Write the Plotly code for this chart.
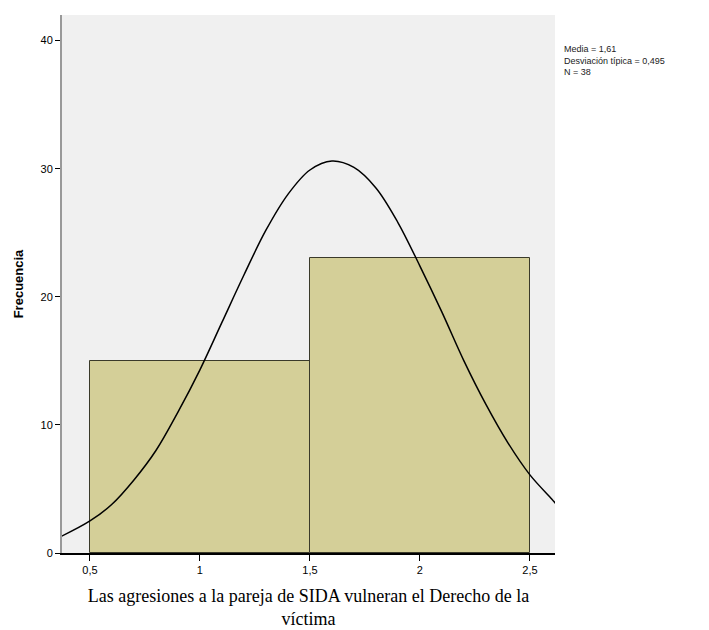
import plotly.graph_objects as go

# histogram bins (centres) and counts
bin_centers = [1.0, 2.0]
counts = [15, 23]

# fitted normal curve
curve_x = [0.37, 0.5, 0.6, 0.7, 0.8, 0.9, 1.0, 1.1, 1.2, 1.3, 1.4, 1.5, 1.6,
           1.7, 1.8, 1.9, 2.0, 2.1, 2.2, 2.3, 2.4, 2.5, 2.6, 2.62]
curve_y = [1.3, 2.5, 3.8, 5.7, 8.0, 11.0, 14.3, 18.0, 21.7, 25.2, 28.0, 29.9, 30.6,
           30.1, 28.5, 25.8, 22.4, 18.8, 15.0, 11.6, 8.6, 6.1, 4.2, 3.8]

x_ticks = [0.5, 1, 1.5, 2, 2.5]
x_tick_labels = ['0,5', '1', '1,5', '2', '2,5']
y_ticks = [0, 10, 20, 30, 40]

stats_text = 'Media = 1,61<br>Desviación típica = 0,495<br>N = 38'

fig = go.Figure()

fig.add_trace(go.Bar(
    x=bin_centers, y=counts, width=1,
    marker=dict(color='#d4cf98', line=dict(color='#3a3a2a', width=1)),
    showlegend=False,
))

fig.add_trace(go.Scatter(
    x=curve_x, y=curve_y, mode='lines',
    line=dict(color='black', width=1.5, shape='spline'),
    showlegend=False,
))

fig.add_annotation(
    x=1.015, y=0.95, xref='paper', yref='paper',
    xanchor='left', yanchor='top', align='left', showarrow=False,
    text=stats_text, font=dict(size=9, color='#222'),
)

fig.update_layout(
    width=709, height=630,
    margin=dict(l=54, r=162, t=7, b=85),
    paper_bgcolor='white',
    plot_bgcolor='#f0f0f0',
    font=dict(family='Liberation Sans, Arial', size=11, color='black'),
    bargap=0,
)

fig.update_xaxes(
    range=[0.373, 2.614],
    tickvals=x_ticks, ticktext=x_tick_labels,
    ticks='outside', ticklen=6, tickcolor='black',
    showgrid=False, zeroline=False,
    showline=True, linecolor='black', linewidth=1.5,
    title=dict(text='Las agresiones a la pareja de SIDA vulneran el Derecho de la<br>víctima',
               font=dict(family='Liberation Serif, Times New Roman', size=18),
               standoff=14),
)

fig.update_yaxes(
    range=[0, 42],
    tickvals=y_ticks,
    ticks='outside', ticklen=5, tickcolor='black',
    showgrid=False, zeroline=False,
    showline=True, linecolor='#999', linewidth=2,
    title=dict(text='<b>Frecuencia</b>', font=dict(size=13), standoff=14),
)

fig.write_html("out.html")
